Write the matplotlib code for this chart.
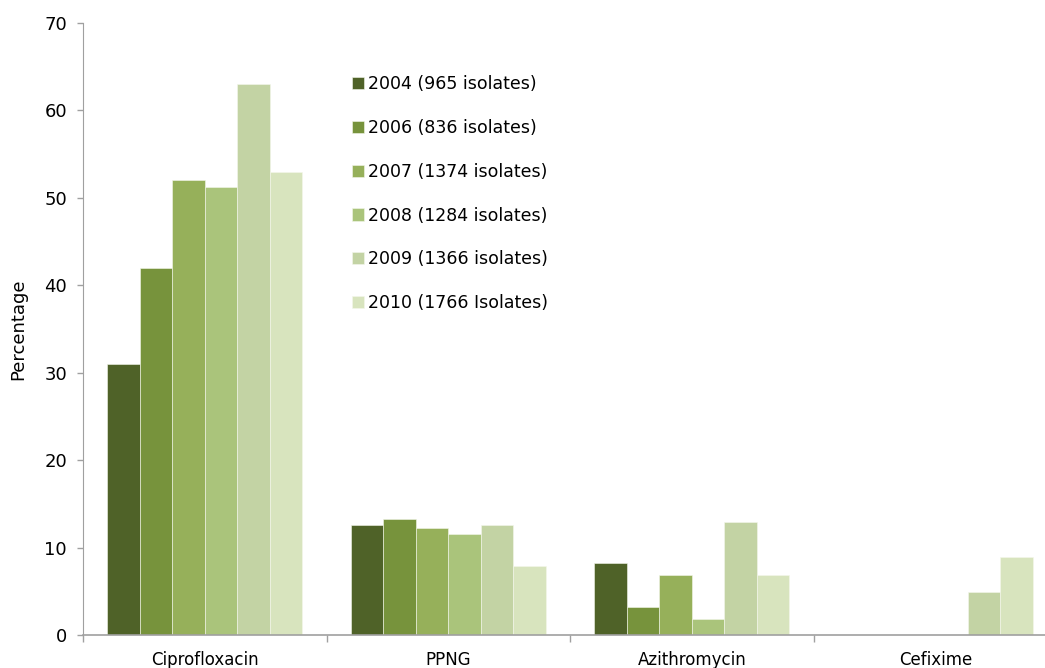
import numpy as np
import matplotlib
matplotlib.use("Agg")
import matplotlib.pyplot as plt

# data
categories = ["Ciprofloxacin", "PPNG", "Azithromycin", "Cefixime"]
series_labels = [
    "2004 (965 isolates)",
    "2006 (836 isolates)",
    "2007 (1374 isolates)",
    "2008 (1284 isolates)",
    "2009 (1366 isolates)",
    "2010 (1766 Isolates)",
]
v2004 = [31.0, 12.6, 8.2, 0.0]
v2006 = [42.0, 13.3, 3.2, 0.0]
v2007 = [52.0, 12.2, 6.9, 0.0]
v2008 = [51.2, 11.6, 1.8, 0.0]
v2009 = [63.0, 12.6, 12.9, 4.9]
v2010 = [53.0, 7.9, 6.9, 8.9]
colors = ["#4F6228", "#77933C", "#96B05A", "#AAC47B", "#C3D3A4", "#D8E4BE"]

plt.rcParams["font.family"] = "DejaVu Sans"

fig = plt.figure(figsize=(10.45, 6.68), dpi=100)
# axis runs past the right edge, as in the reference
ax = fig.add_axes([83 / 1045, 33 / 668, 974 / 1045, 612 / 668])

values = [v2004, v2006, v2007, v2008, v2009, v2010]
x = np.arange(len(categories))
w = 0.8 / 6
for i, (vals, lab, c) in enumerate(zip(values, series_labels, colors)):
    ax.bar(x - 0.4 + w * (i + 0.5), vals, width=w, color=c, label=lab,
           edgecolor="#F4F7EC", linewidth=0.4)

ax.set_xlim(-0.5, 3.5)
ax.set_ylim(0, 70)
ax.set_yticks(range(0, 71, 10))
ax.set_xticks(x)
ax.set_xticklabels(categories, fontsize=12)
ax.set_xticks(np.arange(-0.5, 3.6, 1), minor=True)
ax.tick_params(axis="x", which="major", length=0, pad=11.5)
ax.tick_params(axis="x", which="minor", length=5, color="#A0A0A0", width=1)
ax.tick_params(axis="y", length=4.5, color="#A0A0A0", width=1, labelsize=13, pad=7)

for s in ["top", "right"]:
    ax.spines[s].set_visible(False)
ax.spines["left"].set_color("#A0A0A0")
ax.spines["bottom"].set_color("#A0A0A0")
ax.spines["bottom"].set_linewidth(1.2)

ax.set_ylabel("Percentage", fontsize=13)
ax.yaxis.set_label_coords(-0.0575, 0.5)

ax.legend(loc="upper left", bbox_to_anchor=(352 / 1045, 1 - 75 / 668),
          bbox_transform=fig.transFigure, frameon=False, fontsize=12.5,
          labelspacing=1.49, handlelength=0.7, handleheight=0.7,
          handletextpad=0.2, borderpad=0, borderaxespad=0)

fig.savefig("out.png", dpi=100)
